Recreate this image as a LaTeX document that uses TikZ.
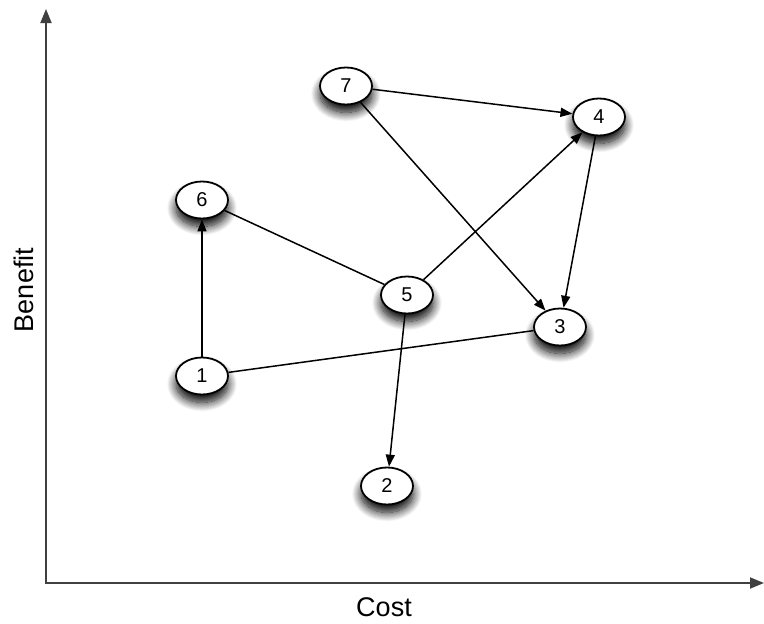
\documentclass[tikz,border=0pt]{standalone}
\usepackage{fontspec}
\setmainfont{Liberation Sans}
\usetikzlibrary{arrows.meta,shapes.geometric,shadows.blur}
\begin{document}
\begin{tikzpicture}[x=1pt,y=-1pt,
  vertex/.style={ellipse, draw=black, line width=1.8pt, fill=white,
    minimum width=52pt, minimum height=37pt, inner sep=0pt,
    font=\fontsize{20}{20}\selectfont,
    blur shadow={shadow xshift=0pt, shadow yshift=-8pt,
      shadow blur radius=9pt, shadow blur steps=14, shadow opacity=100}},
  link/.style={line width=1.5pt, draw=black},
  arc/.style={link, -{Triangle[length=12pt,width=9pt]}},
  axis/.style={line width=1.8pt, draw=black!75, -{Triangle[length=14pt,width=11pt]}},
  axislabel/.style={font=\fontsize{27}{27}\selectfont}]
\useasboundingbox (0,0) rectangle (764,624);

% axes
\coordinate (origin) at (46,583);
\coordinate (ytip) at (46,9);
\coordinate (xtip) at (764,583);
\draw[axis] (origin) -- (ytip);
\draw[axis] ([xshift=-1pt]origin) -- (xtip);
\node[axislabel, rotate=90] (benefit) at (24,290) {Benefit};
\node[axislabel] (cost) at (384,607) {Cost};

% alternatives
\node[vertex] (n7) at (346,86) {7};
\node[vertex] (n4) at (599,117) {4};
\node[vertex] (n6) at (202,200) {6};
\node[vertex] (n5) at (407,295) {5};
\node[vertex] (n3) at (560,327) {3};
\node[vertex] (n1) at (202,376) {1};
\node[vertex] (n2) at (387,486) {2};

% relations
\draw[arc] (n7) -- (n4);
\draw[arc] (n7) -- (n3);
\draw[arc] (n4) -- (n3);
\draw[arc] (n5) -- (n4);
\draw[link] (n6) -- (n5);
\draw[arc] (n5) -- (n2);
\draw[arc] (n1) -- (n6);
\draw[link] (n1) -- (n3);
\end{tikzpicture}
\end{document}
